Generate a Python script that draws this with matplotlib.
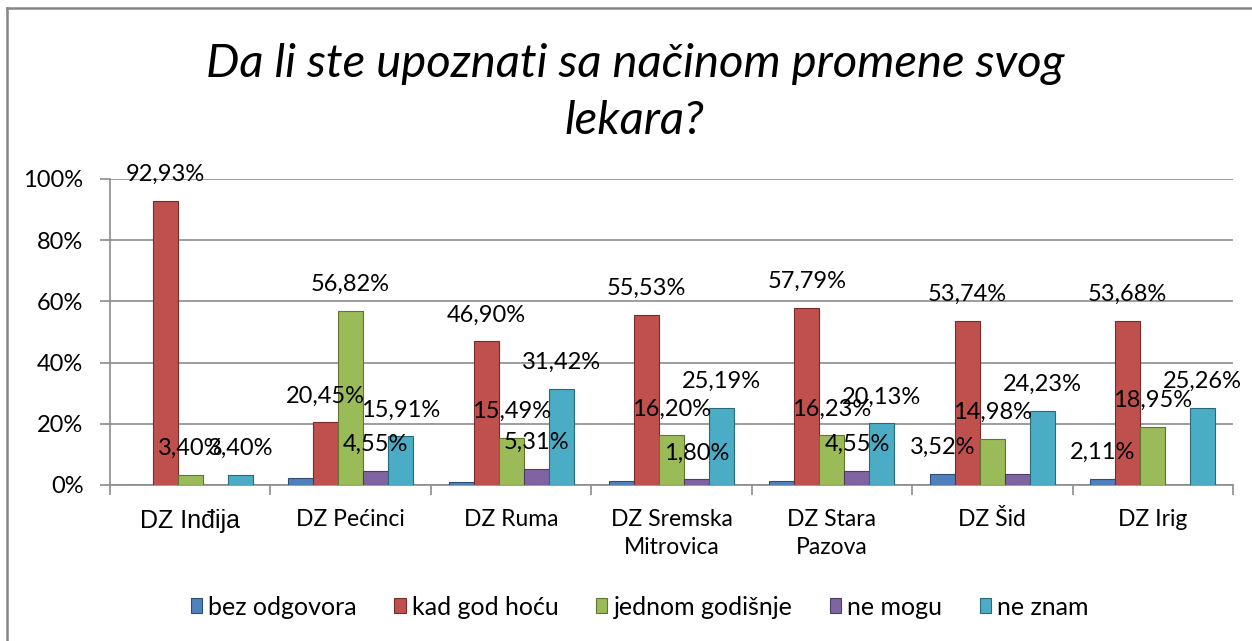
import matplotlib.pyplot as plt
import numpy as np
from matplotlib.lines import Line2D
from matplotlib.patches import Patch

# Data
categories = ["DZ Inđija", "DZ Pećinci", "DZ Ruma", "DZ Sremska\nMitrovica",
              "DZ Stara\nPazova", "DZ Šid", "DZ Irig"]
series = ["bez odgovora", "kad god hoću", "jednom godišnje", "ne mogu", "ne znam"]
bez_odgovora = [0.0, 2.27, 0.88, 1.28, 1.30, 3.52, 2.11]
kad_god_hocu = [92.93, 20.45, 46.90, 55.53, 57.79, 53.74, 53.68]
jednom_godisnje = [3.40, 56.82, 15.49, 16.20, 16.23, 14.98, 18.95]
ne_mogu = [0.0, 4.55, 5.31, 1.80, 4.55, 3.53, 0.0]
ne_znam = [3.40, 15.91, 31.42, 25.19, 20.13, 24.23, 25.26]
# which values carry a data label in the original chart
labeled = [
    [False, False, False, False, False, True, True],
    [True, True, True, True, True, True, True],
    [True, True, True, True, True, True, True],
    [False, True, True, True, True, False, False],
    [True, True, True, True, True, True, True],
]

values = [bez_odgovora, kad_god_hocu, jednom_godisnje, ne_mogu, ne_znam]
colors = ["#4F81BD", "#C0504D", "#9BBB59", "#8064A2", "#4BACC6"]
edges = ["#2C4D75", "#772C2A", "#5F7530", "#4D3B62", "#276A7C"]

plt.rcParams['font.family'] = ['Lato', 'DejaVu Sans']

fig = plt.figure(figsize=(12.52, 6.41), dpi=100)
ax = fig.add_axes([0.0879, 0.2434, 0.8969, 0.4774])

x = np.arange(len(categories))
w = 0.156
for i, (vals, c, ec) in enumerate(zip(values, colors, edges)):
    pos = x + (i - 2) * w
    ax.bar(pos, vals, width=w, color=c, edgecolor=ec, linewidth=0.8, zorder=3,
           label=series[i])
    for p, v, show in zip(pos, vals, labeled[i]):
        if show:
            ax.annotate(f"{v:.2f}%".replace('.', ','), (p, v), xytext=(0, 19),
                        textcoords='offset points', ha='center', va='center',
                        fontsize=17, zorder=5)

ax.set_xlim(-0.5, len(categories) - 0.5)
ax.set_ylim(0, 100)
ax.set_yticks(np.arange(0, 101, 20))
ax.set_yticklabels([f"{t}%" for t in range(0, 101, 20)], fontsize=17)
ax.grid(axis='y', color='#8c8c8c', linewidth=1.2, zorder=0)

# category boundaries as major ticks, names on minor ticks
ax.set_xticks(np.arange(-0.5, len(categories), 1.0))
ax.set_xticklabels([])
ax.set_xticks(x, minor=True)
ax.set_xticklabels(categories, minor=True, fontsize=16.5, linespacing=1.45)
ax.tick_params(axis='x', which='minor', length=0, pad=17)
ax.tick_params(axis='x', which='major', length=7.2, color='#8c8c8c', width=1.2)
ax.tick_params(axis='y', length=7.2, color='#8c8c8c', width=1.2, pad=12)
first = ax.xaxis.get_minor_ticks()[0].label1
first.set_fontfamily('Liberation Sans')
first.set_fontsize(18)

for s in ['top', 'right']:
    ax.spines[s].set_visible(False)
for s in ['left', 'bottom']:
    ax.spines[s].set_color('#8c8c8c')
    ax.spines[s].set_linewidth(1.2)

fig.text(0.507, 0.856, "Da li ste upoznati sa načinom promene svog\nlekara?",
         ha='center', va='center', fontsize=34, style='italic', linespacing=1.45)

handles = [Patch(facecolor=c, edgecolor=ec, linewidth=0.8) for c, ec in zip(colors, edges)]
fig.legend(handles, series, loc='center', bbox_to_anchor=(0.511, 0.053), ncol=5,
           frameon=False, fontsize=18, handlelength=0.45, handleheight=0.55,
           handletextpad=0.25, columnspacing=1.5)

# chart frame (only left and top edges fall inside the image)
fig.add_artist(Line2D([0.0056, 0.0056], [0.0, 0.9875], color='#868686', linewidth=1.8))
fig.add_artist(Line2D([0.0056, 1.0], [0.9875, 0.9875], color='#868686', linewidth=1.8))

fig.savefig("out.png", dpi=100)
